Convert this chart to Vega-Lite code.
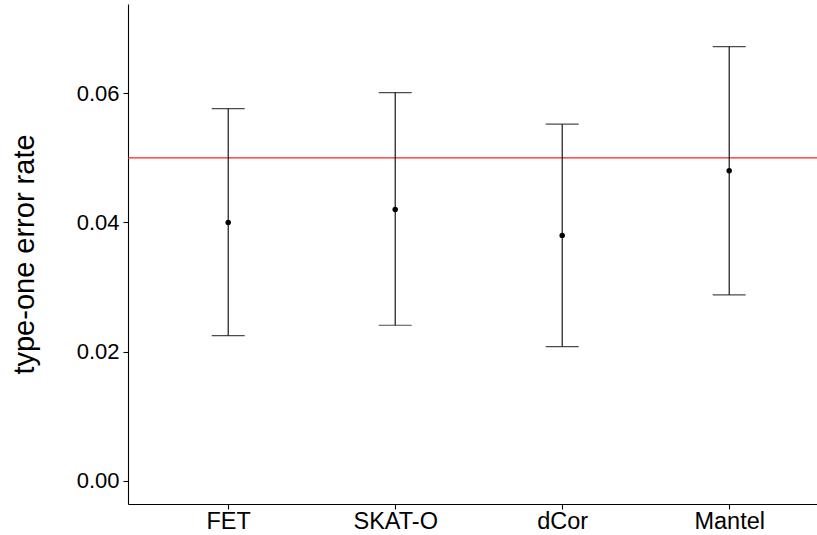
{
  "$schema": "https://vega.github.io/schema/vega-lite/v6.json",
  "width": 689,
  "height": 500,
  "autosize": {"type": "none"},
  "padding": {"left": 128, "top": 4, "right": 0, "bottom": 31},
  "background": "white",
  "config": {
    "view": {"stroke": null},
    "font": "Liberation Sans",
    "axis": {
      "domainColor": "black",
      "domainWidth": 1.1,
      "tickColor": "black",
      "tickWidth": 1.1,
      "tickSize": 5,
      "labelColor": "black",
      "labelFont": "Liberation Sans",
      "grid": false
    }
  },
  "data": {
    "values": [
      {"method": "FET", "rate": 0.040, "lower": 0.0225, "upper": 0.0576},
      {"method": "SKAT-O", "rate": 0.042, "lower": 0.0241, "upper": 0.0601},
      {"method": "dCor", "rate": 0.038, "lower": 0.0208, "upper": 0.0552},
      {"method": "Mantel", "rate": 0.048, "lower": 0.0288, "upper": 0.0672}
    ]
  },
  "layer": [
    {
      "data": {"values": [{"alpha": 0.05}]},
      "mark": {"type": "rule", "color": "#FF2020", "strokeWidth": 1.1},
      "encoding": {
        "y": {"field": "alpha", "type": "quantitative"}
      }
    },
    {
      "mark": {"type": "rule", "color": "black", "strokeWidth": 1.1},
      "encoding": {
        "x": {
          "field": "method",
          "type": "nominal",
          "sort": null,
          "scale": {"type": "point", "padding": 0.5629, "align": 0.533},
          "axis": {"title": null, "labelAngle": 0, "labelPadding": 0, "labelFontSize": 23.5}
        },
        "y": {
          "field": "lower",
          "type": "quantitative",
          "scale": {"domain": [-0.00356, 0.0738], "nice": false, "zero": false},
          "axis": {
            "title": "type-one error rate",
            "titleFont": "Liberation Sans",
            "titleFontSize": 29,
            "titleFontWeight": "normal",
            "titleColor": "black",
            "titlePadding": 37,
            "values": [0, 0.02, 0.04, 0.06],
            "format": ".2f",
            "labelFontSize": 22,
            "labelPadding": 4
          }
        },
        "y2": {"field": "upper"}
      }
    },
    {
      "mark": {"type": "tick", "color": "black", "size": 33, "thickness": 1.2},
      "encoding": {
        "x": {"field": "method", "type": "nominal", "sort": null},
        "y": {"field": "lower", "type": "quantitative"}
      }
    },
    {
      "mark": {"type": "tick", "color": "black", "size": 33, "thickness": 1.2},
      "encoding": {
        "x": {"field": "method", "type": "nominal", "sort": null},
        "y": {"field": "upper", "type": "quantitative"}
      }
    },
    {
      "mark": {"type": "point", "filled": true, "color": "black", "size": 30, "opacity": 1},
      "encoding": {
        "x": {"field": "method", "type": "nominal", "sort": null},
        "y": {"field": "rate", "type": "quantitative"}
      }
    }
  ]
}
